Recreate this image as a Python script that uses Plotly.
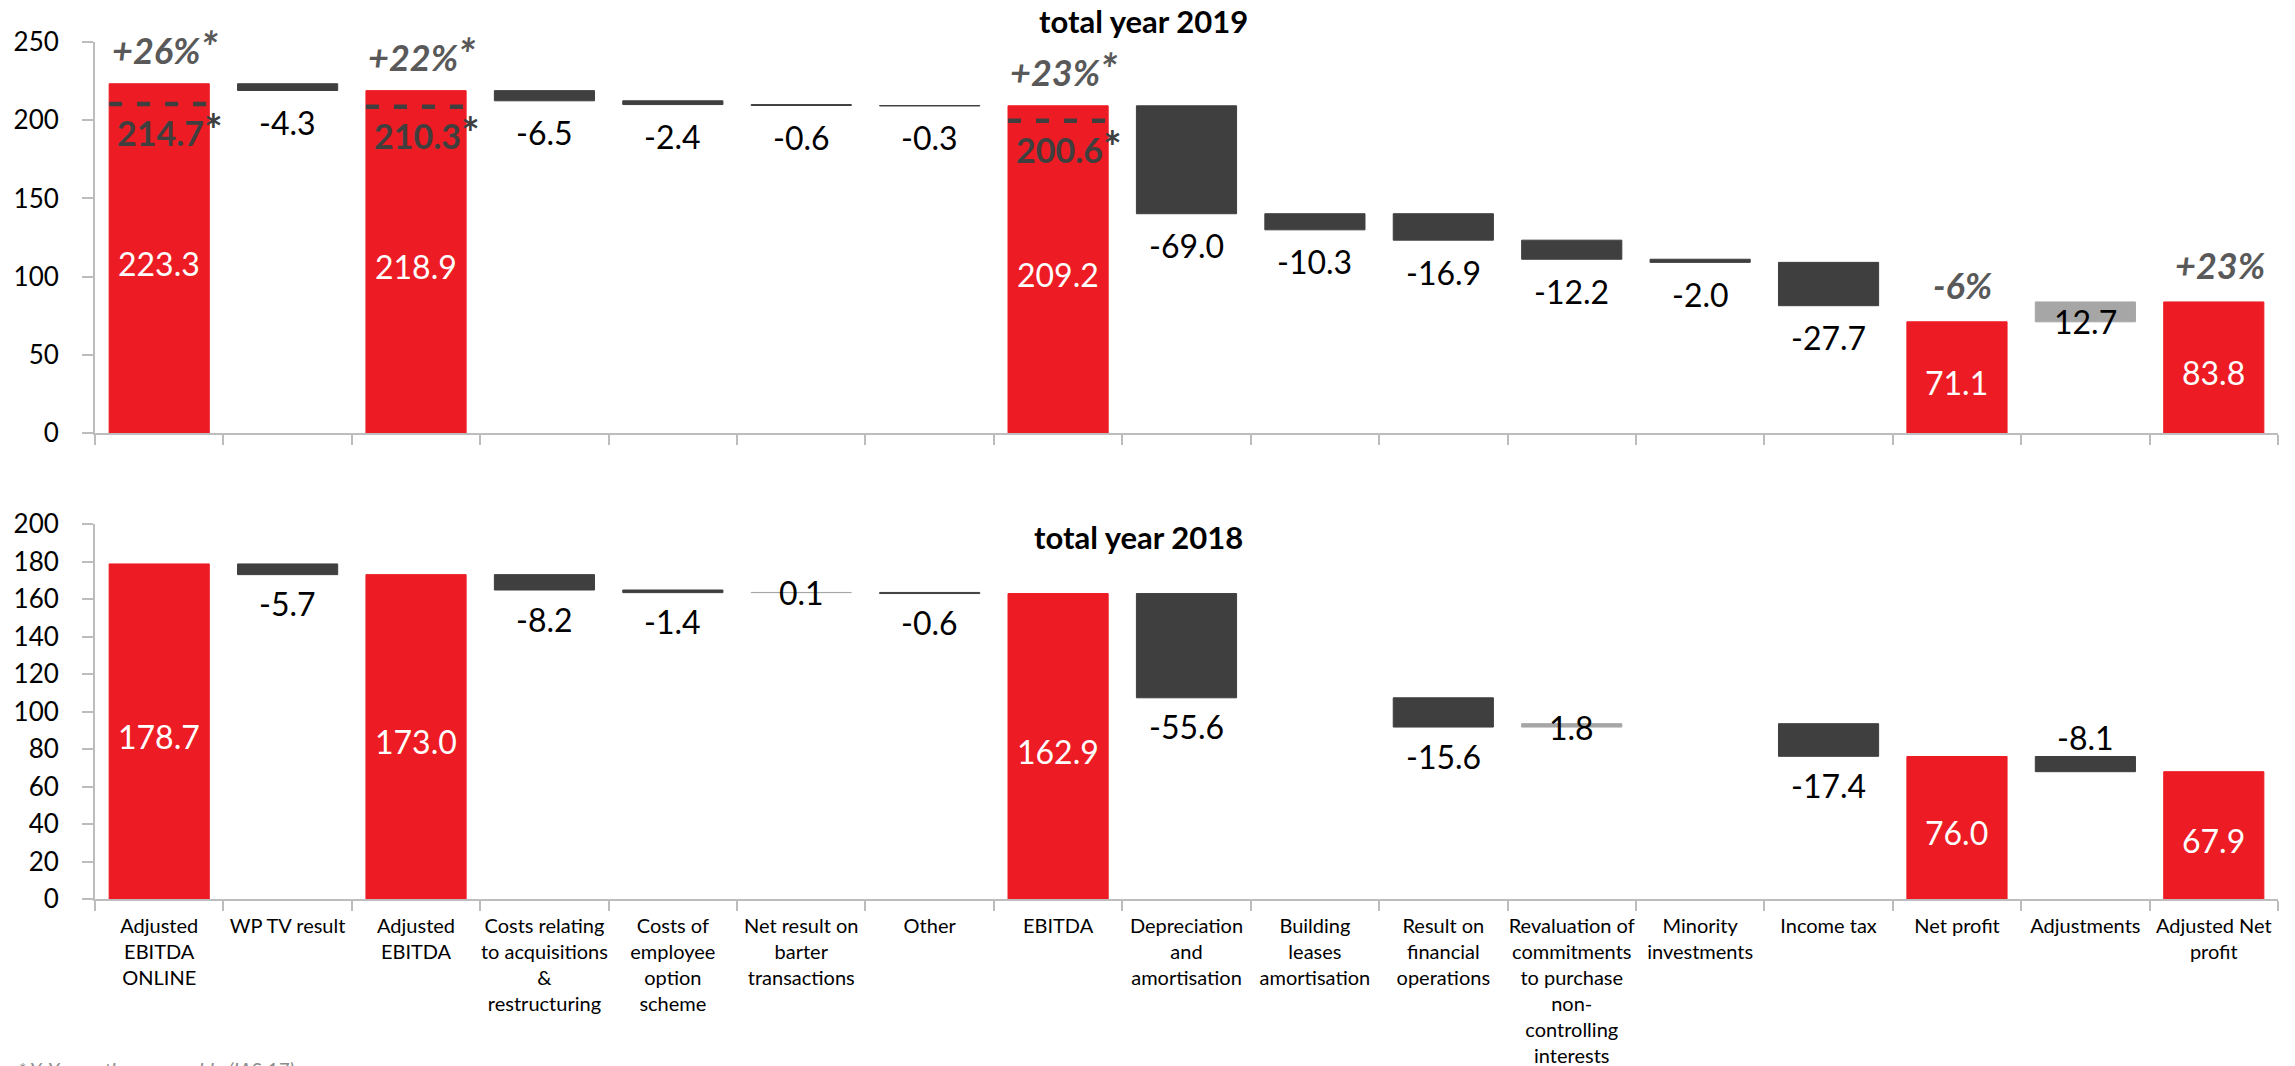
import plotly.graph_objects as go

# ---------------- data ----------------
categories = [
    "Adjusted<br>EBITDA<br>ONLINE", "WP TV result", "Adjusted<br>EBITDA",
    "Costs relating<br>to acquisitions<br>&<br>restructuring",
    "Costs of<br>employee<br>option<br>scheme",
    "Net result on<br>barter<br>transactions", "Other", "EBITDA",
    "Depreciation<br>and<br>amortisation", "Building<br>leases<br>amortisation",
    "Result on<br>financial<br>operations",
    "Revaluation of<br>commitments<br>to purchase<br>non-<br>controlling<br>interests",
    "Minority<br>investments", "Income tax", "Net profit", "Adjustments",
    "Adjusted Net<br>profit",
]

kind = ["total", "delta", "total", "delta", "delta", "delta", "delta", "total",
        "delta", "delta", "delta", "delta", "delta", "delta", "total", "delta", "total"]

# total year 2019
value_2019 = [223.3, -4.3, 218.9, -6.5, -2.4, -0.6, -0.3, 209.2, -69.0, -10.3,
              -16.9, -12.2, -2.0, -27.7, 71.1, 12.7, 83.8]
start_2019 = [0, 223.3, 0, 218.9, 212.4, 210.0, 209.4, 0, 209.2, 140.2,
              140.2, 123.3, 111.1, 109.1, 0, 71.1, 0]

# total year 2018
value_2018 = [178.7, -5.7, 173.0, -8.2, -1.4, 0.1, -0.6, 162.9, -55.6, None,
              -15.6, 1.8, None, -17.4, 76.0, -8.1, 67.9]
start_2018 = [0, 178.7, 0, 173.0, 164.8, 163.4, 163.5, 0, 162.9, None,
              107.3, 91.7, None, 93.5, 0, 76.0, 0]

# growth annotations (2019)
growth_index = [0, 2, 7, 14, 16]
growth_text = ["+26%*", "+22%*", "+23%*", "-6%", "+23%"]

# comparable (IAS 17) levels, 2019
comparable_index = [0, 2, 7]
comparable_level = [210.4, 208.6, 199.7]
comparable_text = ["214.7*", "210.3*", "200.6*"]

y_ticks_2019 = [0, 50, 100, 150, 200, 250]
y_ticks_2018 = [0, 20, 40, 60, 80, 100, 120, 140, 160, 180, 200]

# ---------------- style ----------------
RED = "#ED1C24"
DARK = "#3F3F3F"
LIGHT = "#A6A6A6"
AXIS = "#BDBDBD"
FONT = "Lato, 'Open Sans', sans-serif"
W, H = 2295, 1066
ML, MR = 95, 17
BAR_W = 0.78


def py(px):  # pixel row -> paper y
    return 1 - px / H


def px_x(px):
    return (px - ML) / (W - ML - MR)


def big_star(t, size):
    return t.replace("*", f"<span style='font-size:{size}px'>*</span>")


def colors(values, kinds):
    out = []
    for v, k in zip(values, kinds):
        if k == "total":
            out.append(RED)
        elif v is not None and v > 0:
            out.append(LIGHT)
        else:
            out.append(DARK)
    return out


fig = go.Figure()

for vals, starts, xa, ya in [(value_2019, start_2019, "x", "y"),
                             (value_2018, start_2018, "x2", "y2")]:
    cols = colors(vals, kind)
    fig.add_trace(go.Bar(
        x=categories, y=vals, base=starts, xaxis=xa, yaxis=ya,
        width=BAR_W, marker=dict(color=cols, line=dict(color=cols, width=1)),
        hoverinfo="skip", showlegend=False,
    ))

annotations = []


def label(text, x, y, yref, xref, color="black", size=32, yshift=0, xshift=0,
          bold=False, italic=False, yanchor="middle", xanchor="center"):
    t = text
    if bold:
        t = "<b>" + t + "</b>"
    if italic:
        t = "<i>" + t + "</i>"
    annotations.append(dict(
        text=t, x=x, y=y, xref=xref, yref=yref, showarrow=False,
        font=dict(family=FONT, size=size, color=color),
        yshift=yshift, xshift=xshift, yanchor=yanchor, xanchor=xanchor,
    ))


# value labels
for vals, starts, xr, yr, neg_shift, sides in [
    (value_2019, start_2019, "x", "y", -32, ["below"] * 17),
    (value_2018, start_2018, "x2", "y2", -29,
     ["below"] * 15 + ["above"] + ["below"]),
]:
    for i, (v, s) in enumerate(zip(vals, starts)):
        if v is None:
            continue
        txt = f"{v:.1f}"
        if kind[i] == "total":
            label(txt, i, v / 2, yr, xr, color="white", yshift=-5)
        elif v > 0:
            label(txt, i, s, yr, xr, yshift=0)
        elif sides[i] == "above":
            label(txt, i, s, yr, xr, yshift=19)
        else:
            label(txt, i, s + v, yr, xr, yshift=neg_shift)

# growth labels
for i, t in zip(growth_index, growth_text):
    label(big_star(t, 44), i, value_2019[i], "y", "x", color="#595959", size=36,
          bold=True, italic=True, yshift=37, xshift=6)

# comparable dashed lines
shapes = []
for i, lvl, t in zip(comparable_index, comparable_level, comparable_text):
    shapes.append(dict(type="line", xref="x", yref="y",
                       x0=i - BAR_W / 2, x1=i + BAR_W / 2, y0=lvl, y1=lvl,
                       line=dict(color=DARK, width=4.5, dash="13px,15px")))
    label(big_star(t, 44), i, lvl, "y", "x", color=DARK, size=34, bold=True,
          yshift=-25, xshift=11)

# titles
label("total year 2019", px_x(1143), py(21), "paper", "paper", size=31, bold=True)
label("total year 2018", px_x(1138), py(537), "paper", "paper", size=31, bold=True)

# footnote (mostly cut at the bottom edge, as in the source)
label("* YoY growth comparable (IAS 17)", px_x(16), py(1055), "paper", "paper",
      color="#8C8C8C", size=20, italic=True, yanchor="top", xanchor="left")

xaxis_common = dict(
    type="category", tickson="boundaries", ticks="outside", ticklen=10,
    tickcolor=AXIS, tickwidth=2, showline=True, linecolor=AXIS, linewidth=2,
    showgrid=False, zeroline=False, tickangle=0, automargin=False,
    domain=[0, 1], fixedrange=True,
)
yaxis_common = dict(
    ticks="outside", ticklen=11, tickcolor=AXIS, tickwidth=2, showline=True,
    linecolor=AXIS, linewidth=2, showgrid=False, zeroline=False,
    tickfont=dict(family=FONT, size=26, color="black"), automargin=False,
    ticklabelstandoff=18,
)

fig.update_layout(
    width=W, height=H,
    margin=dict(l=ML, r=MR, t=0, b=0, pad=0),
    paper_bgcolor="white", plot_bgcolor="white",
    barmode="overlay", bargap=0.22,
    font=dict(family=FONT),
    xaxis=dict(xaxis_common, anchor="y", showticklabels=False),
    yaxis=dict(yaxis_common, domain=[py(433), py(42)], range=[0, 250],
               tickvals=y_ticks_2019),
    xaxis2=dict(xaxis_common, anchor="y2", showticklabels=True,
                ticklabelstandoff=8,
                tickfont=dict(family=FONT, size=20, color="black")),
    yaxis2=dict(yaxis_common, domain=[py(899), py(524)], range=[0, 200],
                tickvals=y_ticks_2018),
    annotations=annotations,
    shapes=shapes,
)

fig.write_html("out.html")
